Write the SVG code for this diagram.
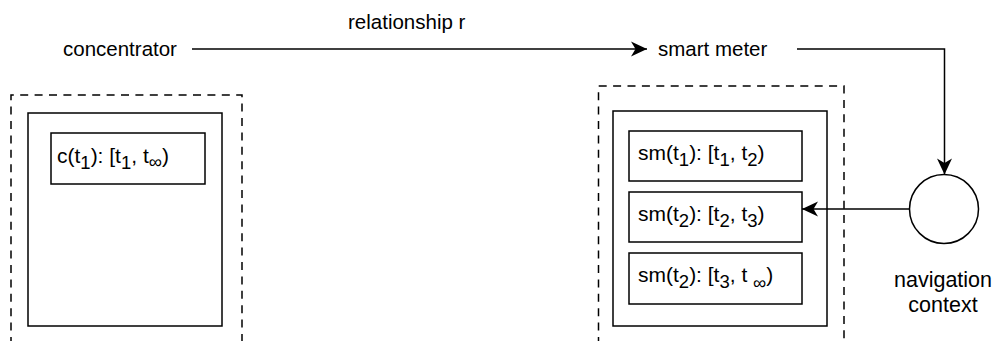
<svg xmlns="http://www.w3.org/2000/svg" width="992" height="341" viewBox="0 0 992 341">
<defs>
<style>
text{font-family:"Liberation Sans",Arial,sans-serif;font-size:20.5px;fill:#000}
.bt{font-size:21px}
.nav{font-size:21.5px}
.box{fill:#fff;stroke:#000;stroke-width:1.5}
.dash{fill:none;stroke:#000;stroke-width:1.5;stroke-dasharray:8 6.4}
.edge{fill:none;stroke:#000;stroke-width:1.5}
.sub{font-size:18.5px}
</style>
<marker id="arr" viewBox="-17 -9 18 18" refX="0" refY="0" markerWidth="18" markerHeight="18" markerUnits="userSpaceOnUse" orient="auto">
<path d="M0,0 L-16,-7.5 L-11.5,0 L-16,7.5 Z" fill="#000"/>
</marker>
</defs>
<rect width="992" height="341" fill="#fff"/>
<g id="concentrator"><text x="63" y="56">concentrator</text></g>
<g id="smart-meter"><text x="658" y="56">smart meter</text></g>
<g id="concentrator-versions">
<path class="dash" d="M11,345 V95 H242 V345"/>
<rect class="box" x="28" y="113" width="194" height="213"/>
</g>
<g id="c-t1">
<rect class="box" x="51" y="133" width="154" height="51"/>
<text class="bt" x="57" y="163">c(t<tspan class="sub" dy="6">1</tspan><tspan dy="-6">): [t</tspan><tspan class="sub" dy="6">1</tspan><tspan dy="-6">, t</tspan><tspan class="sub" dy="5" font-size="18">∞</tspan><tspan dy="-5">)</tspan></text>
</g>
<g id="smart-meter-versions">
<path class="dash" d="M598.5,345 V86 H844 V345"/>
<rect class="box" x="613" y="111" width="214" height="215"/>
</g>
<g id="sm-t1">
<rect class="box" x="629" y="131" width="173" height="50"/>
<text class="bt" x="638" y="160">sm(t<tspan class="sub" dy="6">1</tspan><tspan dy="-6">): [t</tspan><tspan class="sub" dy="6">1</tspan><tspan dy="-6">, t</tspan><tspan class="sub" dy="6">2</tspan><tspan dy="-6">)</tspan></text>
</g>
<g id="sm-t2">
<rect class="box" x="629" y="192" width="173" height="50"/>
<text class="bt" x="638" y="221">sm(t<tspan class="sub" dy="6">2</tspan><tspan dy="-6">): [t</tspan><tspan class="sub" dy="6">2</tspan><tspan dy="-6">, t</tspan><tspan class="sub" dy="6">3</tspan><tspan dy="-6">)</tspan></text>
</g>
<g id="sm-t3">
<rect class="box" x="629" y="253" width="173" height="51"/>
<text class="bt" x="638" y="282">sm(t<tspan class="sub" dy="6">2</tspan><tspan dy="-6">): [t</tspan><tspan class="sub" dy="6">3</tspan><tspan dy="-6">, t </tspan><tspan class="sub" dy="7" font-size="18">∞</tspan><tspan dy="-7">)</tspan></text>
</g>
<g id="navigation-context">
<circle class="box" cx="944" cy="209" r="34.5"/>
<text class="nav" x="943" y="287" text-anchor="middle">navigation</text>
<text class="nav" x="943" y="312" text-anchor="middle">context</text>
</g>
<g id="connectors">
<path class="edge" d="M192,49 H647" marker-end="url(#arr)"/>
<path class="edge" d="M797,49 H944.5 V174.5" marker-end="url(#arr)"/>
<path class="edge" d="M909.5,209 H802" marker-end="url(#arr)"/>
<text x="348" y="29">relationship r</text>
</g>
</svg>
